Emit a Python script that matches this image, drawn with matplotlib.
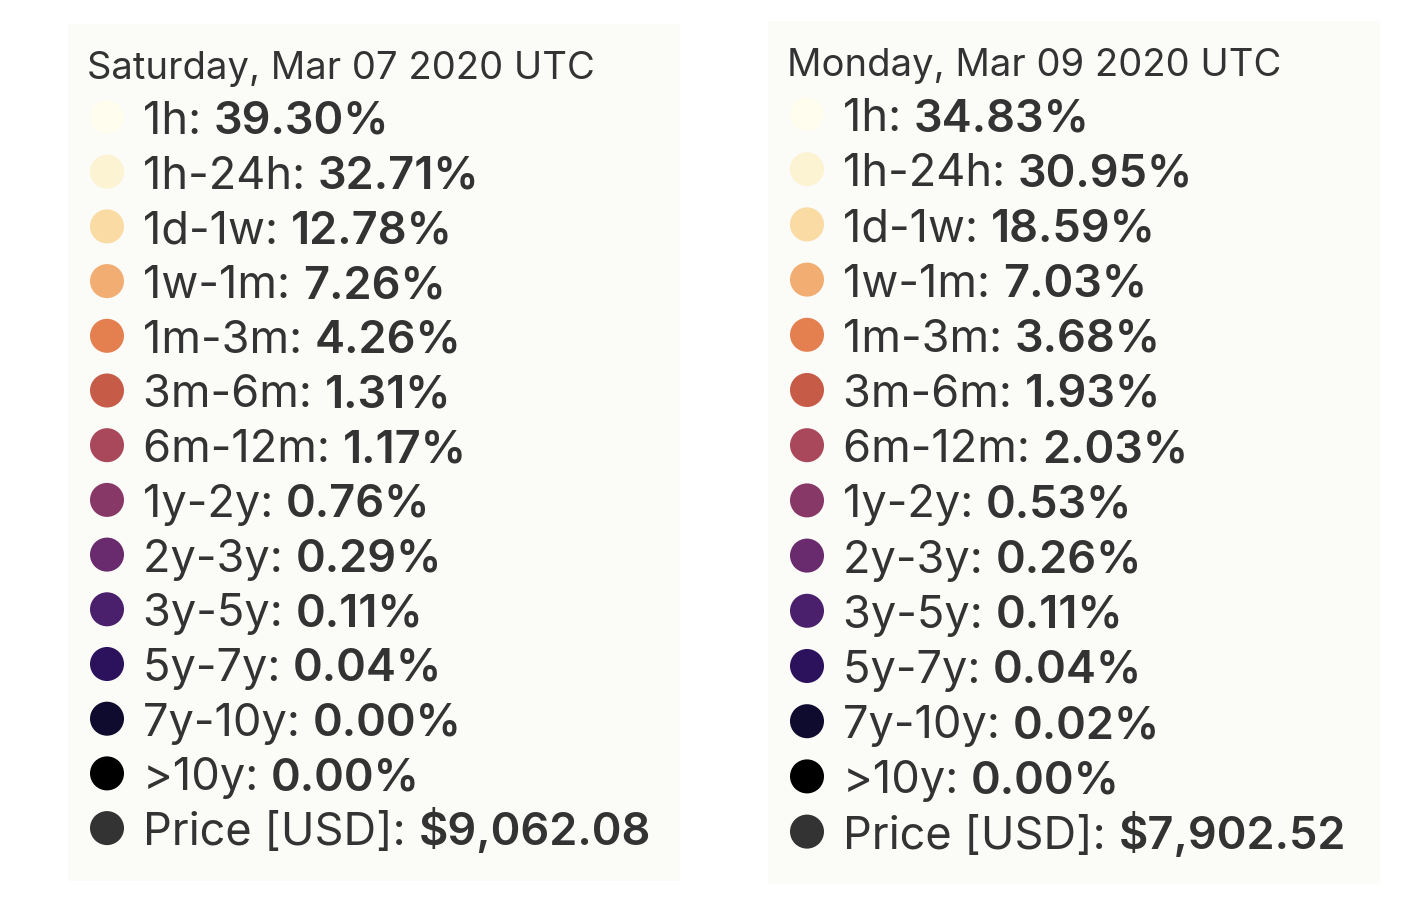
import matplotlib.pyplot as plt
from matplotlib.patches import Rectangle

plt.rcParams['font.family'] = ['Inter', 'DejaVu Sans']

# Data
buckets = ["1h", "1h-24h", "1d-1w", "1w-1m", "1m-3m", "3m-6m", "6m-12m",
           "1y-2y", "2y-3y", "3y-5y", "5y-7y", "7y-10y", ">10y"]
colors = ["#fffdee", "#fcf3d2", "#f9dba3", "#f2ae72", "#e4804f", "#c65c48",
          "#a9485b", "#883866", "#692b6d", "#4a1f6c", "#2c115d", "#0f0b2e",
          "#000000"]
price_color = "#333333"

dates = ["Saturday, Mar 07 2020 UTC", "Monday, Mar 09 2020 UTC"]
share_mar07 = [39.30, 32.71, 12.78, 7.26, 4.26, 1.31, 1.17, 0.76, 0.29, 0.11, 0.04, 0.00, 0.00]
share_mar09 = [34.83, 30.95, 18.59, 7.03, 3.68, 1.93, 2.03, 0.53, 0.26, 0.11, 0.04, 0.02, 0.00]
prices = [9062.08, 7902.52]

W, H = 1408, 912
fig = plt.figure(figsize=(W / 100, H / 100), dpi=100)
ax = fig.add_axes([0, 0, 1, 1])
ax.set_xlim(0, W)
ax.set_ylim(H, 0)
ax.axis("off")

# tooltip boxes: (left, top, width, height, first row y, row step)
boxes = [(68, 25, 612, 857, 118, 54.7),
         (768, 22, 612, 863, 115, 55.2)]

for (bx, by, bw, bh, y0, step), title, shares, price in zip(
        boxes, dates, [share_mar07, share_mar09], prices):
    ax.add_patch(Rectangle((bx, by), bw, bh, facecolor="#fbfbf8", edgecolor="none", zorder=0))
    ax.text(bx + 19, y0 - 39, title, fontsize=27.5, color="#333333", va="baseline")

    labels = buckets + ["Price [USD]"]
    values = [f"{v:.2f}%" for v in shares] + [f"${price:,.2f}"]
    cols = colors + [price_color]
    for i, (lab, val, c) in enumerate(zip(labels, values, cols)):
        y = y0 + i * step
        ax.scatter(bx + 39, y, s=600, color=c, edgecolors="none", zorder=2)
        t = ax.text(bx + 75, y + 16, lab + ": ", fontsize=32.5, color="#333333", va="baseline")
        ax.annotate(val, xy=(1, y + 16), xycoords=(t, "data"), fontsize=32.5,
                    fontweight="semibold", color="#333333", va="baseline")

fig.savefig("out.png", dpi=100, facecolor="white")
